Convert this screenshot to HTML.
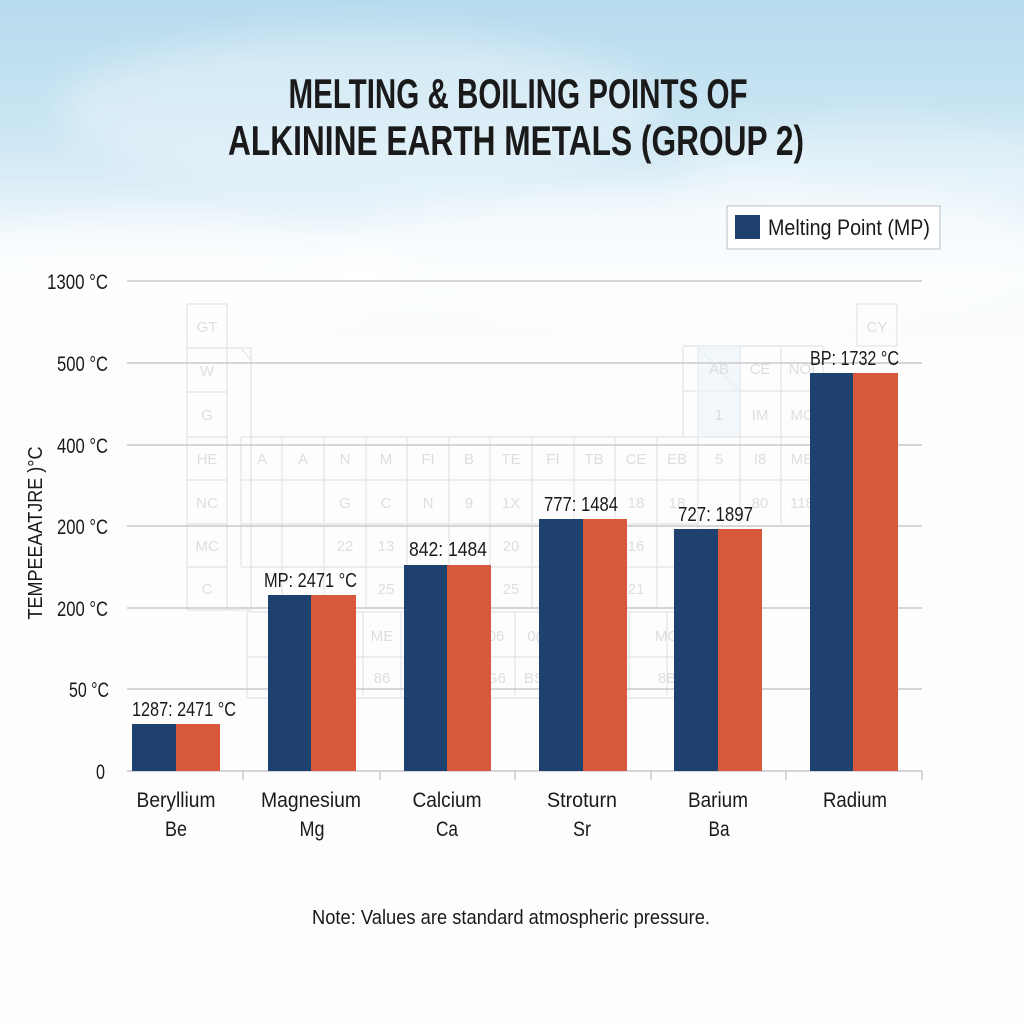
<!DOCTYPE html>
<html>
<head>
<meta charset="utf-8">
<style>
html,body{margin:0;padding:0;background:#fdfdfd;}
svg{display:block;}
text{font-family:"Liberation Sans",sans-serif;fill:#1a1a1a;}
.pt text{fill:#dcdee0;font-size:15px;text-anchor:middle;}
</style>
</head>
<body>
<svg width="1024" height="1024" viewBox="0 0 1024 1024" xmlns="http://www.w3.org/2000/svg">
<defs>
<linearGradient id="sky" x1="0" y1="0" x2="0" y2="1">
<stop offset="0" stop-color="#b7dbee"/>
<stop offset="0.12" stop-color="#c9e5f3"/>
<stop offset="0.2" stop-color="#e3f1f9"/>
<stop offset="0.27" stop-color="#f6fbfd"/>
<stop offset="0.34" stop-color="#fdfdfd"/>
<stop offset="1" stop-color="#fdfdfd"/>
</linearGradient>
<filter id="blur" x="-30%" y="-50%" width="160%" height="200%">
<feGaussianBlur stdDeviation="18"/>
</filter>
</defs>
<rect x="0" y="0" width="1024" height="1024" fill="url(#sky)"/>
<g filter="url(#blur)">
<ellipse cx="360" cy="110" rx="300" ry="75" fill="#ffffff" opacity="0.35"/>
<ellipse cx="150" cy="280" rx="260" ry="60" fill="#ffffff" opacity="0.7"/>
<ellipse cx="700" cy="260" rx="380" ry="70" fill="#ffffff" opacity="0.6"/>
<ellipse cx="880" cy="170" rx="200" ry="50" fill="#ffffff" opacity="0.3"/>
</g>

<!-- faint periodic table -->
<g class="pt" stroke="#e3e4e6" stroke-width="1.2" fill="none">
<rect x="187" y="304" width="40" height="44"/>
<rect x="187" y="348" width="40" height="44"/>
<rect x="187" y="392" width="40" height="45"/>
<rect x="187" y="437" width="40" height="43"/>
<rect x="187" y="480" width="40" height="44"/>
<rect x="187" y="524" width="40" height="43"/>
<rect x="187" y="567" width="40" height="43"/>
<rect x="227" y="348" width="24" height="262"/>
<path d="M227 348 H241 L251 360 V610"/>
<path d="M241 437 H823 M241 480 H823 M241 524 H698 M241 567 H698 M241 608 H698"/>
<path d="M241 437 V567 M282 437 V608 M324 437 V608 M366 437 V608 M407 437 V608 M449 437 V608 M490 437 V608 M532 437 V608 M574 437 V608 M615 437 V608 M657 437 V608 M698 346 V608 M740 346 V524 M781 346 V524 M823 346 V524"/>
<path d="M683 346 H823 M683 391 H823 M683 346 V437"/>
<path d="M697 346 L739 391" stroke="#dfe9ee"/>
<rect x="697" y="346" width="42" height="91" fill="#eaf4f8" stroke="none" opacity="0.6"/>
<rect x="857" y="304" width="40" height="42"/>
<path d="M247 612 H700 M247 657 H700 M247 698 H700 M247 612 V698 M305 612 V698 M363 612 V698 M401 612 V698 M439 612 V698 M477 612 V698 M515 612 V698 M553 612 V698 M591 612 V698 M629 612 V698 M667 612 V698"/>
</g>
<g class="pt">
<text x="207" y="332">GT</text>
<text x="207" y="376">W</text>
<text x="207" y="420">G</text>
<text x="207" y="464">HE</text>
<text x="207" y="508">NC</text>
<text x="207" y="551">MC</text>
<text x="207" y="594">C</text>
<text x="262" y="464">A</text>
<text x="303" y="464">A</text>
<text x="345" y="464">N</text>
<text x="386" y="464">M</text>
<text x="428" y="464">FI</text>
<text x="469" y="464">B</text>
<text x="511" y="464">TE</text>
<text x="553" y="464">FI</text>
<text x="594" y="464">TB</text>
<text x="636" y="464">CE</text>
<text x="677" y="464">EB</text>
<text x="719" y="464">5</text>
<text x="760" y="464">I8</text>
<text x="802" y="464">ME</text>
<text x="345" y="508">G</text>
<text x="386" y="508">C</text>
<text x="428" y="508">N</text>
<text x="469" y="508">9</text>
<text x="511" y="508">1X</text>
<text x="636" y="508">18</text>
<text x="677" y="508">18</text>
<text x="760" y="508">80</text>
<text x="802" y="508">118</text>
<text x="345" y="551">22</text>
<text x="386" y="551">13</text>
<text x="511" y="551">20</text>
<text x="636" y="551">16</text>
<text x="386" y="594">25</text>
<text x="511" y="594">25</text>
<text x="636" y="594">21</text>
<text x="719" y="374">AB</text>
<text x="760" y="374">CE</text>
<text x="802" y="374">NOI</text>
<text x="719" y="420">1</text>
<text x="760" y="420">IM</text>
<text x="802" y="420">MC</text>
<text x="877" y="332">CY</text>
<text x="382" y="641">ME</text>
<text x="382" y="683">86</text>
<text x="496" y="641">06</text>
<text x="534" y="641">0(</text>
<text x="496" y="683">G6</text>
<text x="534" y="683">BS</text>
<text x="667" y="641">MG</text>
<text x="667" y="683">8B</text>
</g>

<!-- title -->
<text x="518" y="108" font-size="42" font-weight="bold" text-anchor="middle" textLength="459" lengthAdjust="spacingAndGlyphs">MELTING &amp; BOILING POINTS OF</text>
<text x="516" y="155" font-size="42" font-weight="bold" text-anchor="middle" textLength="576" lengthAdjust="spacingAndGlyphs">ALKININE EARTH METALS (GROUP 2)</text>

<!-- legend -->
<rect x="727" y="206" width="213" height="43" fill="#ffffff" stroke="#cfd3d6" stroke-width="1.5"/>
<rect x="735" y="215" width="25" height="24" fill="#1f416f"/>
<text x="768" y="235" font-size="22" textLength="162" lengthAdjust="spacingAndGlyphs">Melting Point (MP)</text>

<!-- grid -->
<g stroke="#c9cacc" stroke-width="1.5">
<line x1="127" y1="281" x2="922" y2="281"/>
<line x1="127" y1="363" x2="922" y2="363"/>
<line x1="127" y1="445" x2="922" y2="445"/>
<line x1="127" y1="526" x2="922" y2="526"/>
<line x1="127" y1="608" x2="922" y2="608"/>
<line x1="127" y1="689" x2="922" y2="689"/>
<line x1="127" y1="771" x2="922" y2="771"/>
<line x1="243" y1="771" x2="243" y2="780"/>
<line x1="380" y1="771" x2="380" y2="780"/>
<line x1="515" y1="771" x2="515" y2="780"/>
<line x1="651" y1="771" x2="651" y2="780"/>
<line x1="786" y1="771" x2="786" y2="780"/>
<line x1="922" y1="771" x2="922" y2="780"/>
</g>

<!-- y tick labels -->
<g font-size="21" text-anchor="end">
<text x="108" y="289" textLength="61" lengthAdjust="spacingAndGlyphs">1300 °C</text>
<text x="108" y="371" textLength="51" lengthAdjust="spacingAndGlyphs">500 °C</text>
<text x="108" y="453" textLength="51" lengthAdjust="spacingAndGlyphs">400 °C</text>
<text x="108" y="534" textLength="51" lengthAdjust="spacingAndGlyphs">200 °C</text>
<text x="108" y="616" textLength="51" lengthAdjust="spacingAndGlyphs">200 °C</text>
<text x="109" y="697" textLength="40" lengthAdjust="spacingAndGlyphs">50 °C</text>
<text x="105" y="779" textLength="9" lengthAdjust="spacingAndGlyphs">0</text>
</g>
<text transform="translate(42,533) rotate(-90)" font-size="20" text-anchor="middle" textLength="173" lengthAdjust="spacingAndGlyphs">TEMPEEAATJRE )°C</text>

<!-- bars -->
<g>
<rect x="132" y="724" width="44" height="47" fill="#1f416f"/>
<rect x="176" y="724" width="44" height="47" fill="#d8583c"/>
<rect x="268" y="595" width="43" height="176" fill="#1f416f"/>
<rect x="311" y="595" width="45" height="176" fill="#d8583c"/>
<rect x="404" y="565" width="43" height="206" fill="#1f416f"/>
<rect x="447" y="565" width="44" height="206" fill="#d8583c"/>
<rect x="539" y="519" width="44" height="252" fill="#1f416f"/>
<rect x="583" y="519" width="44" height="252" fill="#d8583c"/>
<rect x="674" y="529" width="44" height="242" fill="#1f416f"/>
<rect x="718" y="529" width="44" height="242" fill="#d8583c"/>
<rect x="810" y="373" width="43" height="398" fill="#1f416f"/>
<rect x="853" y="373" width="45" height="398" fill="#d8583c"/>
</g>

<!-- bar labels -->
<g font-size="20">
<text x="132" y="716" textLength="104" lengthAdjust="spacingAndGlyphs">1287: 2471 °C</text>
<text x="264" y="587" textLength="93" lengthAdjust="spacingAndGlyphs">MP: 2471 °C</text>
<text x="409" y="556" textLength="78" lengthAdjust="spacingAndGlyphs">842: 1484</text>
<text x="544" y="511" textLength="74" lengthAdjust="spacingAndGlyphs">777: 1484</text>
<text x="678" y="521" textLength="75" lengthAdjust="spacingAndGlyphs">727: 1897</text>
<text x="810" y="365" textLength="89" lengthAdjust="spacingAndGlyphs">BP: 1732 °C</text>
</g>

<!-- x labels -->
<g font-size="21" text-anchor="middle">
<text x="176" y="807" textLength="79" lengthAdjust="spacingAndGlyphs">Beryllium</text>
<text x="176" y="836" textLength="22" lengthAdjust="spacingAndGlyphs">Be</text>
<text x="311" y="807" textLength="100" lengthAdjust="spacingAndGlyphs">Magnesium</text>
<text x="312" y="836" textLength="25" lengthAdjust="spacingAndGlyphs">Mg</text>
<text x="447" y="807" textLength="69" lengthAdjust="spacingAndGlyphs">Calcium</text>
<text x="447" y="836" textLength="22" lengthAdjust="spacingAndGlyphs">Ca</text>
<text x="582" y="807" textLength="70" lengthAdjust="spacingAndGlyphs">Stroturn</text>
<text x="582" y="836" textLength="18" lengthAdjust="spacingAndGlyphs">Sr</text>
<text x="718" y="807" textLength="60" lengthAdjust="spacingAndGlyphs">Barium</text>
<text x="719" y="836" textLength="21" lengthAdjust="spacingAndGlyphs">Ba</text>
<text x="855" y="807" textLength="64" lengthAdjust="spacingAndGlyphs">Radium</text>
</g>

<!-- note -->
<text x="511" y="924" font-size="20" text-anchor="middle" textLength="398" lengthAdjust="spacingAndGlyphs">Note: Values are standard atmospheric pressure.</text>
</svg>
</body>
</html>
